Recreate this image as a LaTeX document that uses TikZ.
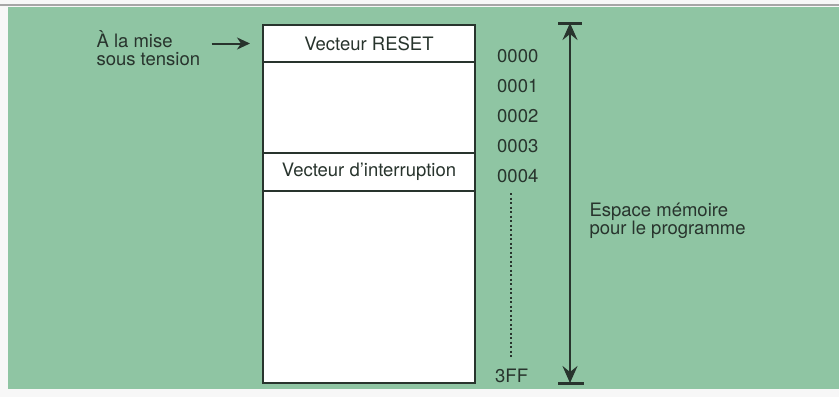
\documentclass[tikz,border=0pt]{standalone}
\usepackage{fontspec}
\setmainfont{TeX Gyre Heros}
\usetikzlibrary{arrows.meta,positioning}
\definecolor{panelgreen}{RGB}{143,197,163}
\definecolor{inkgray}{RGB}{40,52,45}

\begin{document}
\begin{tikzpicture}[x=1pt,y=-1pt,>={Stealth[length=13pt,width=12pt,inset=4pt]},
  every node/.style={text=inkgray,font=\fontsize{18.5}{18}\selectfont},
  cell/.style={draw=inkgray,line width=2.6pt,fill=white,minimum width=212pt,outer sep=0pt,inner sep=0pt},
  addr/.style={anchor=west,inner sep=0pt}]
  \useasboundingbox (0,0) rectangle (839,397);
  \fill[white!94!gray] (0,0) rectangle (839,397);
  \draw[gray!70,line width=1.5pt] (0,5) -- (839,5);
  \fill[panelgreen] (8,7) rectangle (839,389);
  % memory cells
  \node[cell,minimum height=37pt] (resetcell) at (369,43.5) {Vecteur RESET};
  \node[cell,minimum height=91pt,below=0pt of resetcell] (freecell) {};
  \node[cell,minimum height=38pt,below=0pt of freecell] (irqcell) {Vecteur d'interruption};
  \node[cell,minimum height=192pt,below=0pt of irqcell] (progcell) {};
  % addresses
  \foreach \y/\lab in {56/0000,86/0001,116/0002,146/0003,176/0004}
    \node[addr] (a\lab) at (497,\y) {\lab};
  \node[addr] (aend) at (495,376) {3FF};
  \coordinate (dtop) at (511,193);
  \coordinate (dbot) at (511,358);
  \draw[inkgray,line width=1.6pt,dash pattern=on 2pt off 2.5pt] (dtop) -- (dbot);
  % power-up
  \node[anchor=north west,align=left] (powerup) at (93,27) {À la mise\\sous tension};
  \draw[->,inkgray,line width=2pt,shorten <=8pt,shorten >=13pt]
    (powerup.east |- resetcell) -- (resetcell);
  % program space
  \coordinate (memtop) at (570,23);
  \coordinate (membot) at (570,383);
  \draw[<->,inkgray,line width=2.4pt,>={Stealth[length=17pt,width=15pt,inset=6pt]}] (memtop) -- (membot);
  \draw[inkgray,line width=3pt] ([xshift=-12pt]memtop) -- ([xshift=12pt]memtop);
  \draw[inkgray,line width=3pt] ([xshift=-12pt]membot) -- ([xshift=14pt]membot);
  \node[anchor=west,align=left] (memspace) at (586,221) {Espace mémoire\\pour le programme};
\end{tikzpicture}
\end{document}
